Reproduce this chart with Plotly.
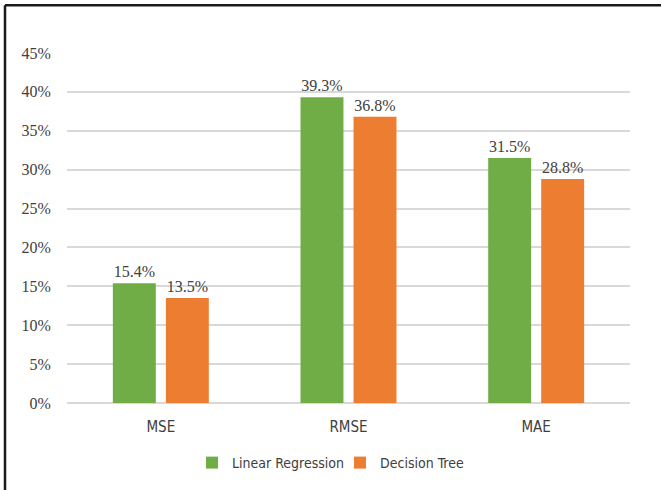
import plotly.graph_objects as go

# Error metrics for the two regression models (as fractions)
metrics = ["MSE", "RMSE", "MAE"]
linear_regression = [0.154, 0.393, 0.315]
decision_tree = [0.135, 0.368, 0.288]
series_names = ["Linear Regression", "Decision Tree"]

GREEN = "#70AD47"
ORANGE = "#ED7D31"
TEXT = "#404040"
SERIF = "Liberation Serif, Times New Roman, serif"
SANS = "DejaVu Sans Condensed, Liberation Sans Narrow, Liberation Sans, sans-serif"

W, H = 661, 490
ML, MR, MT, MB = 67, 31, 53, 86
PW, PH = W - ML - MR, H - MT - MB


def px_x(x):
    return (x - ML) / PW


def px_y(y):
    return (H - MB - y) / PH


fig = go.Figure()
for name, vals, col, lg in [(series_names[0], linear_regression, GREEN, "legend"),
                            (series_names[1], decision_tree, ORANGE, "legend2")]:
    fig.add_trace(go.Bar(
        x=metrics, y=vals, name=name, legend=lg,
        marker=dict(color=col, line=dict(width=8, color="rgba(0,0,0,0)")),
        texttemplate="%{y:.1%}", textposition="outside",
        textfont=dict(family=SERIF, size=16, color=TEXT),
        cliponaxis=False,
    ))

# frame lines along the top and left edge
fig.add_shape(type="line", xref="paper", yref="paper",
              x0=px_x(5), x1=px_x(W + 5), y0=px_y(5), y1=px_y(5),
              line=dict(color="#1a1a1a", width=2.5))
fig.add_shape(type="line", xref="paper", yref="paper",
              x0=px_x(5), x1=px_x(5), y0=px_y(5), y1=px_y(H + 5),
              line=dict(color="#1a1a1a", width=2.5))

legend_style = dict(orientation="h", xanchor="left", yanchor="middle",
                    y=px_y(463), font=dict(family=SANS, size=14, color=TEXT),
                    itemwidth=30, bgcolor="rgba(0,0,0,0)")

fig.update_layout(
    width=W, height=H,
    margin=dict(l=ML, r=MR, t=MT, b=MB),
    paper_bgcolor="white", plot_bgcolor="white",
    barmode="group", bargap=0.435, bargroupgap=0.19,
    showlegend=True,
    legend=dict(x=px_x(192), **legend_style),
    legend2=dict(x=px_x(340), **legend_style),
    xaxis=dict(showgrid=False, showline=False, zeroline=False,
               ticks="outside", ticklen=10, tickcolor="rgba(0,0,0,0)",
               tickfont=dict(family=SANS, size=15, color=TEXT)),
    yaxis=dict(range=[0, 0.45], dtick=0.05, tickformat=".0%",
               showgrid=True, gridcolor="#D9D9D9", gridwidth=1.5,
               zeroline=True, zerolinecolor="#D9D9D9", zerolinewidth=1.5,
               showline=False, ticks="outside", ticklen=12,
               tickcolor="rgba(0,0,0,0)",
               tickfont=dict(family=SERIF, size=16, color=TEXT)),
)

fig.write_html("out.html")
